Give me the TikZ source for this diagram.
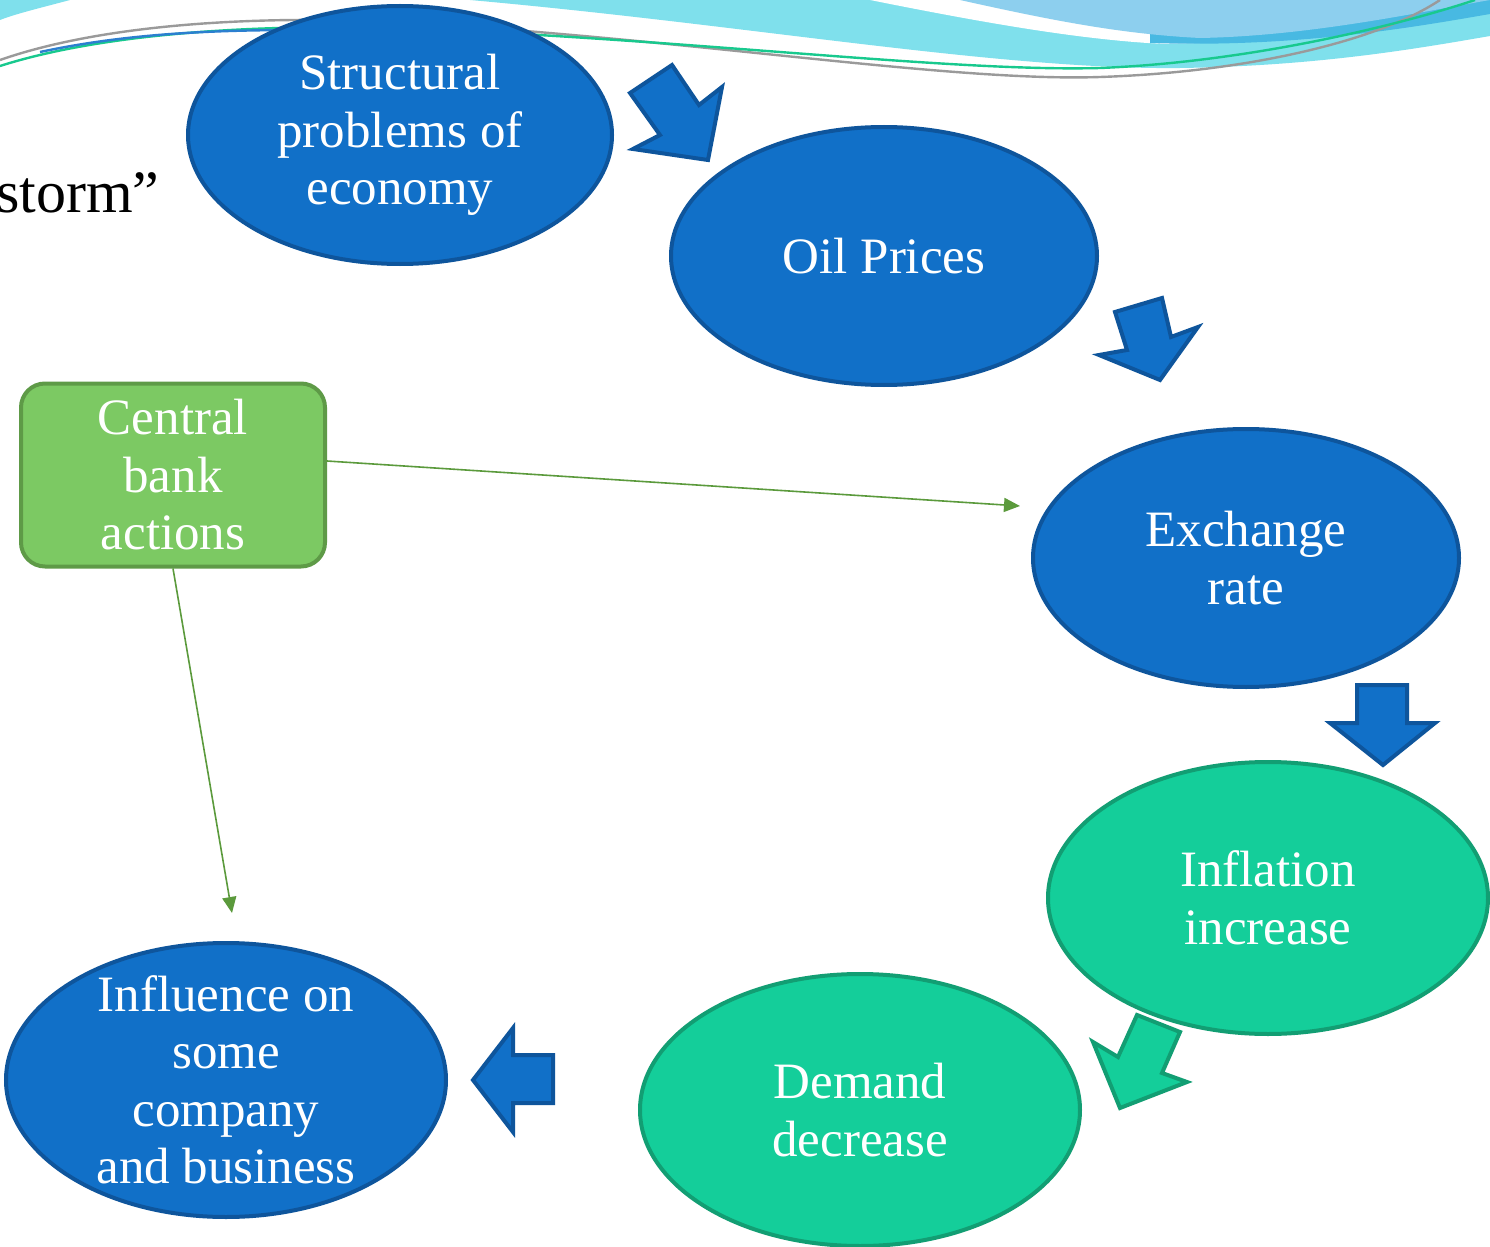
\documentclass[tikz,border=0pt]{standalone}
\usepackage{fontspec}
\newfontfamily\timesf{Liberation Serif}
\usetikzlibrary{shapes.geometric,arrows.meta}
\definecolor{eblue}{HTML}{1170C8}
\definecolor{eblueD}{HTML}{0E559C}
\definecolor{egreen}{HTML}{14CE9A}
\definecolor{egreenD}{HTML}{129E73}
\definecolor{bgreen}{HTML}{7CC963}
\definecolor{bgreenD}{HTML}{5E9A47}
\definecolor{lgreen}{HTML}{5B9A3C}
\definecolor{wcyan}{HTML}{7FE0EC}
\definecolor{wblue}{HTML}{8DCFEE}
\definecolor{wblueD}{HTML}{48B9E2}
\definecolor{lgray}{HTML}{9A9A9A}
\definecolor{lteal}{HTML}{18C98E}
\definecolor{lblue}{HTML}{2C7FD0}
\tikzset{
  ell/.style={ellipse, draw=eblueD, fill=eblue, line width=2pt, inner sep=0pt},
  ellg/.style={ell, draw=egreenD, fill=egreen},
  txt/.style={text=white, align=center, inner sep=0pt, font=\timesf\fontsize{25.5}{28.75}\selectfont},
  barrow/.style={draw=eblueD, fill=eblue, line width=2pt, line join=miter},
  garrow/.style={draw=egreenD, fill=egreen, line width=2pt, line join=miter},
  link/.style={draw=lgreen, line width=0.8pt, -{Triangle[length=8pt,width=7pt]}}
}
\begin{document}
\begin{tikzpicture}[x=0.5pt,y=-0.5pt]
\useasboundingbox (0,0) rectangle (1490,1247);
\fill[white] (0,0) rectangle (1490,1247);
% top waves
\fill[wcyan] (0,0) -- (70,0) .. controls (40,8) and (15,14) .. (0,20) -- cycle;
\fill[wcyan] (470,0) .. controls (750,25) and (1000,70) .. (1180,68) .. controls (1320,66) and (1420,48) .. (1490,36) -- (1490,0) -- cycle;
\fill[white] (870,0) .. controls (980,22) and (1080,40) .. (1165,44) .. controls (1300,42) and (1420,18) .. (1490,4) -- (1490,0) -- cycle;
\fill[wblueD] (1150,43) .. controls (1300,48) and (1420,26) .. (1490,14) -- (1490,0) -- (1150,0) -- cycle;
\fill[wblue] (960,0) .. controls (1050,20) and (1120,34) .. (1200,38) .. controls (1310,36) and (1420,12) .. (1490,0) -- cycle;
\draw[lgray, line width=1.2pt] (0,60) .. controls (100,25) and (250,15) .. (400,22) .. controls (700,40) and (950,82) .. (1100,77) .. controls (1250,72) and (1380,40) .. (1440,0);
\draw[lteal, line width=1.2pt] (0,66) .. controls (100,34) and (250,24) .. (400,28) .. controls (700,40) and (950,72) .. (1100,68) .. controls (1250,62) and (1400,25) .. (1475,0);
\draw[lblue, line width=1.2pt] (40,52) .. controls (120,35) and (200,30) .. (300,30);
% storm text
\node[anchor=base east, inner sep=0pt, font=\timesf\fontsize{30}{36}\selectfont] (storm) at (160,213) {storm”};
% ellipses
\node[ell, minimum width=212pt, minimum height=129pt] (struct) at (400,135) {};
\node[txt] at (struct.center) {Structural\\problems of\\economy};
\node[ell, minimum width=213pt, minimum height=129pt] (oil) at (884,256) {};
\node[txt] at (oil.center) {Oil Prices};
\node[ell, minimum width=213pt, minimum height=129pt] (exch) at (1246,558) {};
\node[txt] at (exch.center) {Exchange\\rate};
\node[ellg, minimum width=220pt, minimum height=136pt] (infl) at (1268,898) {};
\node[txt] at (infl.center) {Inflation\\increase};
\node[ellg, minimum width=220pt, minimum height=136pt] (dem) at (860,1110) {};
\node[txt] at (dem.center) {Demand\\decrease};
\node[ell, minimum width=220pt, minimum height=137pt] (infc) at (226,1080) {};
\node[txt] at (infc.center) {Influence on\\some\\company\\and business};
% central bank box
\node[draw=bgreenD, fill=bgreen, line width=2pt, rounded corners=12pt, minimum width=152pt, minimum height=91.5pt, inner sep=0pt] (cb) at (173,475) {};
\node[txt] at (cb.center) {Central\\bank\\actions};
% block arrows
\draw[barrow] (630,93) -- (672,65) -- (699,105) -- (722,87) -- (708,160) -- (633,149) -- (660,135) -- cycle;
\draw[barrow] (1115,312) -- (1162,298) -- (1171,337) -- (1198,327) -- (1160,380) -- (1099,355) -- (1127,350) -- cycle;
\draw[barrow] (1357,685) -- (1407,685) -- (1407,723) -- (1435,723) -- (1383,765) -- (1330,723) -- (1357,723) -- cycle;
\draw[garrow] (1137,1015) -- (1180,1032) -- (1162,1073) -- (1187,1082) -- (1120,1108) -- (1093,1042) -- (1118,1057) -- cycle;
\draw[barrow] (553,1055) -- (553,1103) -- (513,1103) -- (513,1132) -- (473,1080) -- (513,1028) -- (513,1055) -- cycle;
% thin links
\coordinate (exIn) at (1020,506);
\coordinate (inIn) at (232,913);
\draw[link] ([yshift=7pt]cb.east) -- (exIn);
\draw[link] (cb.south) -- (inIn);
\end{tikzpicture}
\end{document}
